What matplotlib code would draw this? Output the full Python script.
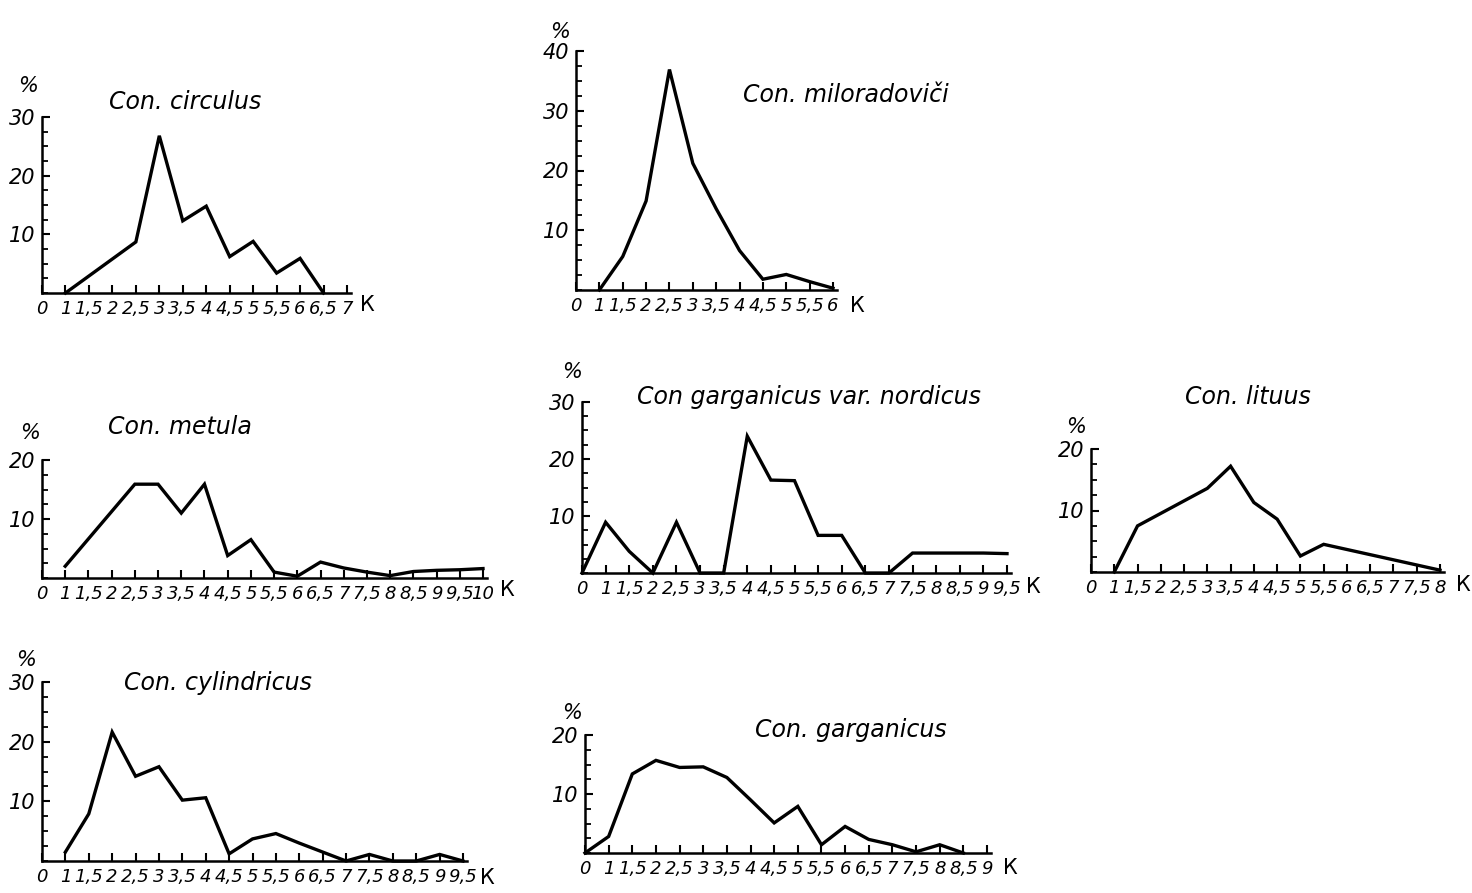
import matplotlib
matplotlib.use("Agg")
import matplotlib.pyplot as plt
from matplotlib.ticker import MultipleLocator
import numpy as np

W, H = 1472, 893
plt.rcParams["font.family"] = ["Liberation Sans Narrow", "DejaVu Sans"]

# values: K (coefficient) -> percent
circulus_k = [1, 2.5, 3, 3.5, 4, 4.5, 5, 5.5, 6, 6.5]
circulus_pct = [0, 8.7, 26.8, 12.3, 14.8, 6.2, 8.8, 3.4, 5.9, 0]

milorad_k = [1, 1.5, 2, 2.5, 3, 3.5, 4, 4.5, 5, 5.5, 6]
milorad_pct = [0, 5.6, 14.9, 36.9, 21.2, 13.6, 6.6, 1.8, 2.6, 1.4, 0.3]

metula_k = [1, 2.5, 3, 3.5, 4, 4.5, 5, 5.5, 6, 6.5, 7, 7.5, 8, 8.5, 9, 9.5, 10]
metula_pct = [2.0, 15.9, 15.9, 11.0, 15.9, 3.8, 6.5, 1.0, 0.3, 2.7, 1.7, 1.0, 0.4, 1.1, 1.3, 1.4, 1.6]

nordicus_k = [0, 1, 1.5, 2, 2.5, 3, 3.5, 4, 4.5, 5, 5.5, 6, 6.5, 7, 7.5, 8, 8.5, 9, 9.5]
nordicus_pct = [0, 8.9, 3.8, 0, 8.9, 0, 0, 24.0, 16.3, 16.2, 6.6, 6.6, 0, 0, 3.5, 3.5, 3.5, 3.5, 3.4]

lituus_k = [1, 1.5, 3, 3.5, 4, 4.5, 5, 5.5, 8]
lituus_pct = [0, 7.5, 13.6, 17.2, 11.3, 8.6, 2.6, 4.5, 0.3]

cylindricus_k = [1, 1.5, 2, 2.5, 3, 3.5, 4, 4.5, 5, 5.5, 6, 6.5, 7, 7.5, 8, 8.5, 9, 9.5]
cylindricus_pct = [1.5, 7.9, 21.6, 14.2, 15.8, 10.2, 10.6, 1.2, 3.7, 4.6, 3.0, 1.5, 0, 1.1, 0, 0, 1.1, 0]

garganicus_k = [0, 1, 1.5, 2, 2.5, 3, 3.5, 4, 4.5, 5, 5.5, 6, 6.5, 7, 7.5, 8, 8.5]
garganicus_pct = [0, 2.8, 13.4, 15.7, 14.5, 14.6, 12.8, 9.0, 5.1, 7.9, 1.4, 4.5, 2.3, 1.4, 0.2, 1.4, 0]

# layout in pixels: axis box (left, base, top, right) and label anchors
panels = [
    dict(title="Con. circulus", k=circulus_k, pct=circulus_pct, kmax=7, ymax=30,
         box=(42, 293, 117, 347), title_xy=(185, 102), pct_xy=(28, 86), k_xy=(367, 305)),
    dict(title="Con. miloradoviči", k=milorad_k, pct=milorad_pct, kmax=6, ymax=40,
         box=(576, 290, 51, 833), title_xy=(846, 95), pct_xy=(560, 32), k_xy=(857, 306)),
    dict(title="Con. metula", k=metula_k, pct=metula_pct, kmax=10, ymax=20,
         box=(42, 578, 460, 483), title_xy=(180, 427), pct_xy=(30, 433), k_xy=(507, 590)),
    dict(title="Con garganicus var. nordicus", k=nordicus_k, pct=nordicus_pct, kmax=9.5, ymax=30,
         box=(582, 573, 402, 1007), title_xy=(809, 397), pct_xy=(572, 372), k_xy=(1033, 587)),
    dict(title="Con. lituus", k=lituus_k, pct=lituus_pct, kmax=8, ymax=20,
         box=(1091, 572, 449, 1440), title_xy=(1248, 397), pct_xy=(1076, 427), k_xy=(1463, 585)),
    dict(title="Con. cylindricus", k=cylindricus_k, pct=cylindricus_pct, kmax=9.5, ymax=30,
         box=(42, 861, 682, 463), title_xy=(218, 683), pct_xy=(26, 660), k_xy=(487, 878)),
    dict(title="Con. garganicus", k=garganicus_k, pct=garganicus_pct, kmax=9, ymax=20,
         box=(585, 853, 735, 987), title_xy=(851, 730), pct_xy=(572, 713), k_xy=(1010, 868)),
]


def kpos(k):
    # the K axis is drawn with equal steps: 0, 1, 1.5, 2, ...
    k = np.asarray(k, dtype=float)
    return np.where(k == 0, 0, 2 * k - 1)


def fmt(v):
    return (f"{v:g}").replace(".", ",")


fig = plt.figure(figsize=(W / 100, H / 100), dpi=100)
fig.patch.set_facecolor("white")

for p in panels:
    left, base, top, right = p["box"]
    ticks_k = [0] + list(np.arange(1, p["kmax"] + 0.25, 0.5))
    n = len(ticks_k) - 1
    step = (right - left) / n
    xmax = n + 4 / step
    ax = fig.add_axes([left / W, 1 - base / H, xmax * step / W, (base - top) / H])
    ax.plot(kpos(p["k"]), p["pct"], color="black", lw=2.4, clip_on=False,
            solid_joinstyle="miter")
    ax.set_xlim(0, xmax)
    ax.set_ylim(0, p["ymax"])
    ax.set_xticks(kpos(ticks_k))
    ax.set_xticklabels([fmt(v) for v in ticks_k], fontstyle="italic", fontsize=13)
    ax.set_yticks(range(10, p["ymax"] + 1, 10))
    ax.set_yticklabels([str(v) for v in range(10, p["ymax"] + 1, 10)],
                       fontstyle="italic", fontsize=15)
    ax.yaxis.set_minor_locator(MultipleLocator(2.5))
    ax.tick_params(direction="in", length=6, width=1.5, pad=5)
    ax.tick_params(axis="y", which="minor", direction="in", length=4, width=1.3)
    for s in ("top", "right"):
        ax.spines[s].set_visible(False)
    for s in ("left", "bottom"):
        ax.spines[s].set_linewidth(1.8)
    ax.patch.set_alpha(0)

    fig.text(p["title_xy"][0] / W, 1 - p["title_xy"][1] / H, p["title"],
             ha="center", va="center", fontstyle="italic", fontsize=17,
             family="DejaVu Sans")
    fig.text(p["pct_xy"][0] / W, 1 - p["pct_xy"][1] / H, "%",
             ha="center", va="center", fontstyle="italic", fontsize=15)
    fig.text(p["k_xy"][0] / W, 1 - p["k_xy"][1] / H, "К",
             ha="center", va="center", fontsize=15, family="DejaVu Sans")

fig.savefig("out.png", dpi=100, facecolor="white")
